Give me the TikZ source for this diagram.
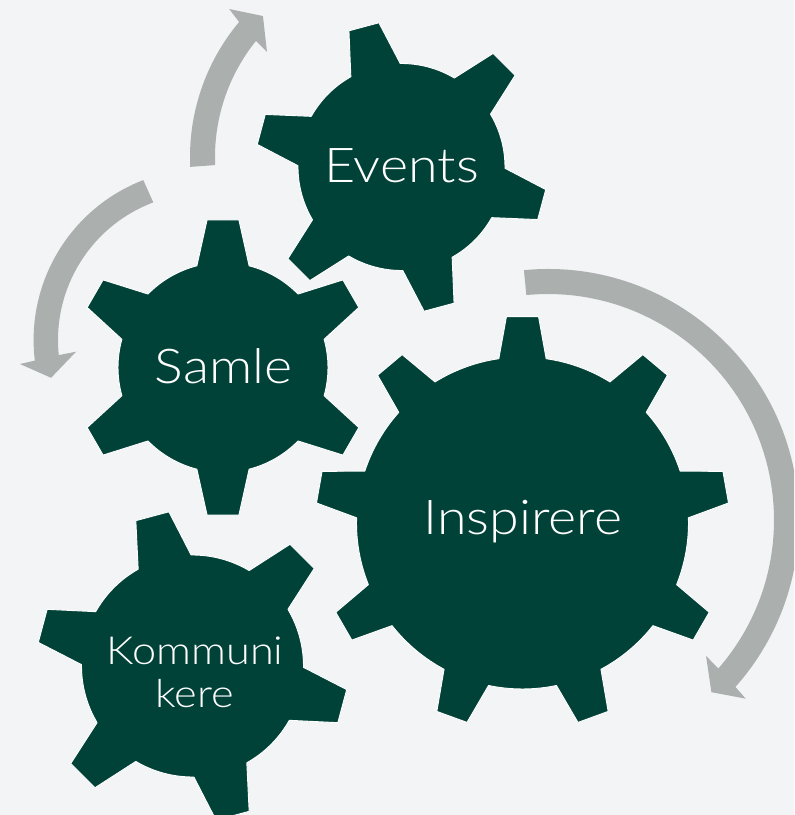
\documentclass[tikz,border=0pt]{standalone}
\usepackage{fontspec}
\setmainfont[FakeStretch=1.12]{Lato Light}
\definecolor{bggrey}{HTML}{F2F4F6}
\definecolor{geargreen}{HTML}{004238}
\definecolor{arrowgrey}{HTML}{ABAFAD}
\tikzset{
	gearbody/.style={fill=geargreen,draw=white,line width=0.7pt,line join=round},
	bentarrow/.style={fill=arrowgrey},
	gearlabel/.style={text=white,align=center,inner sep=0pt}
}
% centre, body radius, tip radius, teeth, first tooth angle, half angle at body, half angle at tip
\newcommand{\drawgear}[7]{
	\draw[gearbody,shift={(#1)}] (#5-#6:#2)
		\foreach \i [evaluate=\i as \a using #5+(\i-1)*360/#4] in {1,...,#4} {
			-- (\a-#6:#2) -- (\a-#7:#3) -- (\a+#7:#3) -- (\a+#6:#2)
			arc[start angle=\a+#6,end angle=\a+360/#4-#6,radius=#2]
		} -- cycle;
}
\begin{document}
\begin{tikzpicture}[x=0.75pt,y=0.75pt]
	\useasboundingbox (0,0) rectangle (794,815);
	\clip (0,0) rectangle (794,815);
	\fill[bggrey] (0,0) rectangle (794,815);
	% arrows
	\fill[bentarrow,shift={(400,658)}] (182.7:210) arc[start angle=182.7,end angle=140,radius=210]
		-- (139.1:226) -- (134.2:196.6) -- (141.7:169.5) -- (141.1:185)
		arc[start angle=141.1,end angle=182.5,radius=185] -- cycle;
	\fill[bentarrow,shift={(205,475)}] (111.1:171.4) arc[start angle=111.1,end angle=186.9,radius=171.4]
		-- (187.4:186.6) -- (193.8:158.5) -- (185.2:129.5) -- (185.9:147)
		arc[start angle=185.9,end angle=110.6,radius=147] -- cycle;
	\fill[bentarrow,shift={(548,295)}] (95.5:251) arc[start angle=95.5,end angle=-41.7,radius=251]
		-- (-42.1:266.5) -- (-46.5:237.4) -- (-40.7:208.5) -- (-41.1:226)
		arc[start angle=-41.1,end angle=95.5,radius=226] -- cycle;
	% gears
	\drawgear{401.5,648}{103.5}{146}{6}{105}{14.3}{6.1}
	\drawgear{223,447.5}{105}{148.5}{6}{90}{14.4}{6.15}
	\drawgear{522.5,292}{166}{207}{9}{90}{8.2}{4.45}
	\drawgear{192.5,149}{111}{156}{6}{105}{14.3}{6.3}
	% labels
	\node[gearlabel,font=\fontsize{36}{36}\selectfont] (events) at (401.5,649) {Events};
	\node[gearlabel,font=\fontsize{36}{36}\selectfont] (samle) at (223.5,449) {Samle};
	\node[gearlabel,font=\fontsize{36}{36}\selectfont] (inspirere) at (523,293) {Inspirere};
	\node[gearlabel,font=\fontsize{29}{32}\selectfont] (kommunikere) at (195,143) {Kommuni\\kere};
\end{tikzpicture}
\end{document}
